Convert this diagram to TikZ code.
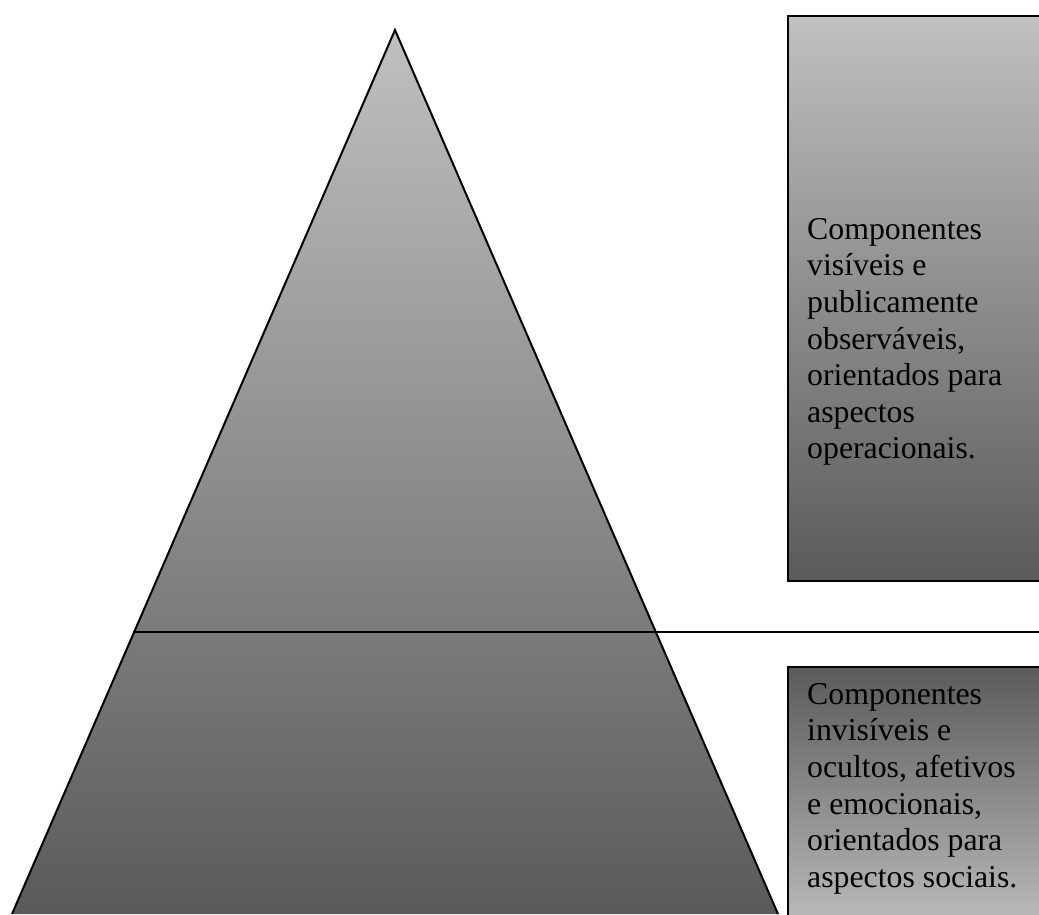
\documentclass[tikz,border=0pt]{standalone}
\usepackage{fontspec}
\setmainfont{Liberation Serif}
\definecolor{lightg}{RGB}{192,192,192}
\definecolor{darkg}{RGB}{90,90,90}
\tikzset{
  panel/.style={draw=black, line width=2pt, rectangle, inner sep=0pt, anchor=north west},
  label/.style={anchor=north west, inner sep=0pt, align=left, font=\fontsize{31.8}{36.6}\selectfont},
  edge/.style={draw=black, line width=2pt}
}
\begin{document}
\begin{tikzpicture}[x=1pt,y=-1pt]
\useasboundingbox (0,0) rectangle (1039,914);
\clip (0,0) rectangle (1039,914);
% pyramid
\coordinate (apex) at (395,30);
\coordinate (bl) at (12,914);
\coordinate (br) at (778,914);
\shade[top color=lightg, bottom color=darkg] (apex) -- (br) -- (bl) -- cycle;
\draw[edge, line join=miter] (bl) -- (apex) -- (br);
% dividing line
\coordinate (lineL) at (133,632);
\coordinate (lineR) at (1045,632);
\draw[edge] (lineL) -- (lineR);
% top panel
\node[panel, top color=lightg, bottom color=darkg, minimum width=270pt, minimum height=565pt] (topbox) at (787,15) {};
\node[label] (toptext) at (807,218) {Componentes\\visíveis e\\publicamente\\observáveis,\\orientados para\\aspectos\\operacionais.};
% bottom panel
\node[panel, top color=darkg, bottom color=lightg, minimum width=270pt, minimum height=270pt] (botbox) at (787,666) {};
\node[label] (bottext) at (807,683) {Componentes\\invisíveis e\\ocultos, afetivos\\e emocionais,\\orientados para\\aspectos sociais.};
\end{tikzpicture}
\end{document}
